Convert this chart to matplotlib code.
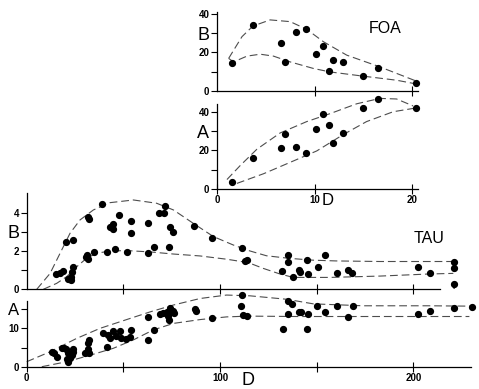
import matplotlib.pyplot as plt
import numpy as np

# ---- FOA (top right) ----
foa_d = [1.55, 3.68, 6.6, 6.95, 8.07, 9.13, 10.15, 10.83, 11.45, 11.93, 12.95, 14.92, 16.46, 20.41]
foa_b = [14.6, 34.1, 25.0, 15.1, 30.8, 32.0, 19.0, 23.3, 10.3, 16.0, 15.0, 8.0, 12.0, 4.2]
foa_a = [3.4, 15.9, 21.1, 28.7, 21.9, 18.4, 31.1, 38.8, 32.9, 24.0, 29.0, 41.7, 46.4, 42.0]

foa_b_up_d = [1.19, 2.56, 3.68, 5.45, 7.5, 9.2, 10.9, 13.3, 16.7, 20.4]
foa_b_up = [16.9, 28.2, 33.7, 36.9, 36.0, 32.0, 25.6, 18.6, 12.5, 5.2]
foa_b_lo_d = [1.2, 1.7, 3.07, 4.43, 5.79, 7.5, 9.88, 11.58, 14.99, 18.4, 20.27]
foa_b_lo = [16.9, 15.1, 18.1, 19.1, 18.1, 15.1, 11.7, 9.9, 7.7, 5.6, 3.8]

foa_a_up_d = [1.02, 2.39, 4.09, 6.47, 9.2, 11.58, 14.31, 16.7, 18.4, 20.1]
foa_a_up = [4.9, 12.2, 20.6, 29.0, 34.9, 39.0, 44.1, 46.9, 46.6, 43.0]
foa_a_lo_d = [2.04, 4.77, 7.5, 10.22, 12.95, 15.33, 18.06, 20.1]
foa_a_lo = [2.9, 7.9, 13.8, 19.7, 28.2, 34.9, 40.0, 41.7]

# ---- TAU (bottom) ----
tau_b_d = [15.2, 17.2, 18.9, 20.2, 21.2, 22.8, 22.9, 23.3, 23.8, 23.8,
           30.6, 31.0, 31.9, 31.9, 32.4, 34.8, 38.8, 41.7, 43.1, 44.5,
           44.8, 45.7, 47.6, 51.7, 54.0, 54.0, 62.6, 62.6, 65.9, 68.6,
           71.6, 71.2, 73.8, 74.1, 75.9, 86.7, 95.7, 111.2, 112.9, 114.1,
           131.9, 135.3, 135.3, 137.6, 140.9, 141.4, 145.2, 145.4, 150.5, 154.3,
           160.4, 166.0, 168.4, 202.6, 208.6, 221.1, 221.1]
tau_b = [0.78, 0.87, 0.94, 2.45, 0.52, 0.49, 0.62, 0.92, 1.15, 2.57,
         1.70, 1.79, 1.58, 3.79, 3.65, 1.93, 4.43, 1.96, 3.27, 3.39,
         3.13, 2.09, 3.88, 1.97, 3.57, 2.92, 3.44, 1.88, 2.19, 3.97,
         4.35, 4.0, 2.23, 3.23, 2.97, 3.30, 2.70, 2.17, 1.49, 1.53,
         0.95, 1.79, 1.44, 0.62, 1.0, 0.9, 1.51, 0.8, 1.16, 1.79,
         0.83, 0.99, 0.87, 1.15, 0.87, 1.44, 1.09]
tau_b_limit_d = [221.1]
tau_b_limit = [0.3]

tau_b_up_d = [5.2, 12.1, 18.1, 22.4, 27.6, 34.5, 43.1, 55.2, 67.2, 75.9, 86.2, 96.6,
              106.9, 115.5, 124.0, 135.3, 148.0, 160.0, 182.8, 205.0, 220.7]
tau_b_up = [0.0, 0.83, 2.05, 2.92, 3.62, 4.14, 4.52, 4.66, 4.49, 4.14, 3.44, 2.75,
            2.31, 2.0, 1.75, 1.62, 1.52, 1.48, 1.45, 1.45, 1.45]
tau_b_lo_d = [8.6, 15.5, 20.7, 25.9, 31.0, 36.2, 43.1, 51.7, 63.8, 75.9, 89.7,
              103.4, 114.7, 122.4, 131.0, 137.9, 156.9, 182.8, 208.6, 220.7]
tau_b_lo = [0.0, 0.31, 0.66, 1.18, 1.62, 1.88, 2.0, 2.02, 1.95, 1.84, 1.74,
            1.57, 1.39, 1.09, 0.8, 0.62, 0.62, 0.69, 0.8, 0.83]

tau_a_d = [12.9, 14.3, 15.9, 18.1, 19.5, 20.3, 21.6, 20.7, 21.6, 22.4,
           23.3, 23.8, 24.1, 30.2, 32.4, 31.9, 31.9, 32.4, 39.3, 41.7,
           42.2, 43.1, 44.8, 46.2, 48.1, 48.6, 51.4, 53.4, 54.0, 63.0,
           63.0, 65.9, 69.0, 70.7, 72.4, 73.3, 74.1, 74.5, 75.5, 76.2,
           73.8, 87.1, 87.6, 96.0, 111.2, 110.7, 112.1, 114.1,
           132.4, 135.3, 137.1, 135.3, 141.0, 141.7, 145.4, 145.2, 150.3, 154.3,
           160.4, 166.4, 168.7, 202.6, 208.6, 221.1, 230.3]
tau_a = [3.9, 3.5, 2.6, 5.0, 4.8, 4.5, 3.7, 1.9, 1.3, 2.2,
         3.0, 3.9, 4.5, 3.5, 3.5, 4.5, 6.3, 7.0, 8.7, 5.2,
         8.3, 7.4, 9.4, 8.0, 9.4, 7.4, 7.1, 7.7, 9.6, 7.0,
         13.0, 9.6, 13.7, 13.9, 14.3, 13.2, 15.2, 14.3, 14.6, 14.1,
         12.2, 15.0, 14.6, 12.6, 18.7, 15.8, 13.5, 13.2,
         9.8, 17.2, 16.3, 13.7, 14.4, 14.2, 13.8, 9.8, 15.8, 14.4,
         15.8, 13.1, 15.8, 13.7, 14.6, 15.2, 15.7]

tau_a_up_d = [0, 12.1, 25.9, 37.9, 51.7, 63.8, 75.9, 89.7, 103.4, 115.5, 134.5, 148.3, 174.1, 208.6, 230.2]
tau_a_up = [1.3, 3.9, 7.4, 10.0, 12.3, 14.3, 16.1, 17.8, 18.7, 18.5, 17.6, 16.4, 15.9, 15.9, 15.8]
tau_a_lo_d = [7.8, 20.7, 32.8, 44.8, 55.2, 65.5, 75.9, 89.7, 103.4, 114.7, 140.0, 180.0, 229.0]
tau_a_lo = [0.0, 1.3, 3.0, 4.8, 7.0, 9.6, 11.3, 12.3, 13.0, 13.2, 13.1, 13.1, 13.1]

W, H = 479, 389
fig = plt.figure(figsize=(W / 100, H / 100), dpi=100)
fig.patch.set_facecolor('white')
FONT = 'Liberation Sans'
TICK_FS = 7


def add_ax(left, right, top, bottom):
    return fig.add_axes([left / W, 1 - bottom / H, (right - left) / W, (bottom - top) / H])


def style(ax):
    for s in ['top', 'right']:
        ax.spines[s].set_visible(False)
    for s in ['left', 'bottom']:
        ax.spines[s].set_linewidth(0.9)
    ax.set_facecolor('none')
    ax.tick_params(axis='y', direction='out', length=4, width=0.8, pad=1.5)
    ax.tick_params(axis='x', direction='inout', length=7, width=0.8, pad=1)


def yticks(ax, vals, labels, letter_idx, letter_size):
    ax.set_yticks(vals)
    ax.set_yticklabels(labels, fontsize=TICK_FS, fontweight='bold', family=FONT)
    lab = ax.get_yticklabels()[letter_idx]
    lab.set_fontsize(letter_size)
    lab.set_fontweight('normal')


def dashed(ax, x, y):
    ax.plot(x, y, color='0.3', lw=0.8, dashes=(7, 3.5), clip_on=False)


def dots(ax, x, y):
    ax.plot(x, y, 'o', color='black', ms=4.2, clip_on=False)


# FOA B
ax1 = add_ax(217, 418, 12, 91)
style(ax1)
ax1.set_xlim(0, 20.6)
ax1.set_ylim(0, 41)
ax1.set_xticks([10, 20])
ax1.set_xticklabels([])
yticks(ax1, [0, 10, 20, 30, 40], ['0', '', '20', 'B', '40'], 3, 13)
dashed(ax1, foa_b_up_d, foa_b_up)
dashed(ax1, foa_b_lo_d, foa_b_lo)
dots(ax1, foa_d, foa_b)
ax1.text(15.6, 30, 'FOA', fontsize=11.5, family=FONT)

# FOA A
ax2 = add_ax(217, 418, 104, 189)
style(ax2)
ax2.set_xlim(0, 20.6)
ax2.set_ylim(0, 44)
ax2.set_xticks([0, 10, 20])
ax2.set_xticklabels(['0', '10', '20'], fontsize=TICK_FS, fontweight='bold', family=FONT)
yticks(ax2, [0, 10, 20, 30, 40], ['0', '', '20', 'A', '40'], 3, 13)
dashed(ax2, foa_a_up_d, foa_a_up)
dashed(ax2, foa_a_lo_d, foa_a_lo)
dots(ax2, foa_d, foa_a)
ax2.text(10.75, -2.0, 'D', fontsize=12, family=FONT, va='top')

# TAU B
ax3 = add_ax(26.7, 471.3, 192.5, 289.3)
style(ax3)
ax3.set_xlim(0, 230)
ax3.set_ylim(0, 5.05)
ax3.spines['bottom'].set_bounds(0, 214)
ax3.set_xticks([50, 100, 150, 200])
ax3.set_xticklabels([])
yticks(ax3, [0, 1, 2, 3, 4], ['0', '', '2', 'B', '4'], 3, 13)
dashed(ax3, tau_b_up_d, tau_b_up)
dashed(ax3, tau_b_lo_d, tau_b_lo)
dots(ax3, tau_b_d, tau_b)
dots(ax3, tau_b_limit_d, tau_b_limit)
ax3.annotate('', xy=(tau_b_limit_d[0], -0.15), xytext=(tau_b_limit_d[0], tau_b_limit[0]),
             arrowprops=dict(arrowstyle='-|>', lw=0.8, color='black', mutation_scale=5),
             annotation_clip=False)
ax3.text(200, 2.4, 'TAU', fontsize=11.5, family=FONT)

# TAU A
ax4 = add_ax(26.7, 471.3, 300.8, 366.7)
style(ax4)
ax4.set_xlim(0, 230)
ax4.set_ylim(0, 17.2)
ax4.set_xticks([0, 50, 100, 150, 200])
ax4.set_xticklabels(['0', '', '100', '', '200'], fontsize=TICK_FS, fontweight='bold', family=FONT)
yticks(ax4, [0, 5, 10, 15], ['0', '', '10', 'A'], 3, 12)
dashed(ax4, tau_a_up_d, tau_a_up)
dashed(ax4, tau_a_lo_d, tau_a_lo)
dots(ax4, tau_a_d, tau_a)
ax4.text(111, -1.4, 'D', fontsize=13, family=FONT, va='top')

fig.savefig('out.png', dpi=100)
